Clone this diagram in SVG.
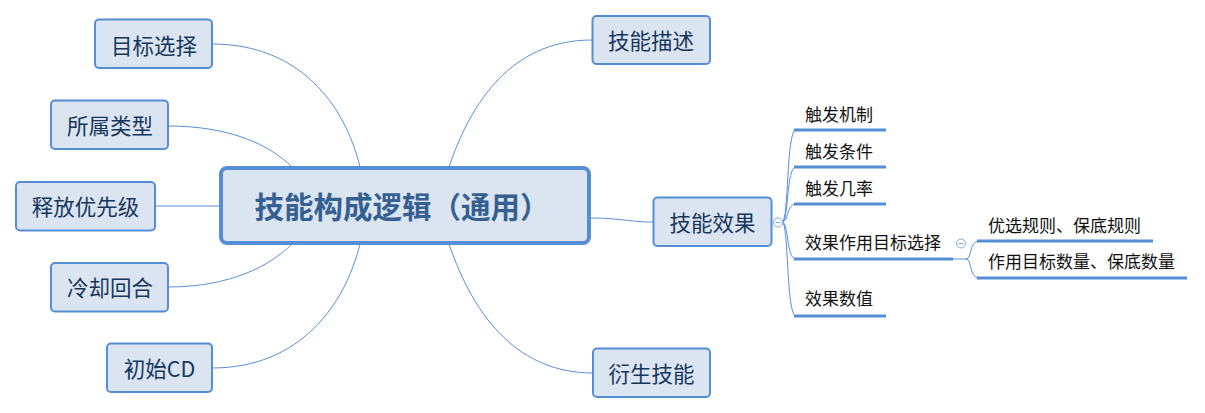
<svg xmlns="http://www.w3.org/2000/svg" width="1205" height="413" viewBox="0 0 1205 413">
<style>
.node rect{fill:#DBE5F1;stroke:#558ED5;stroke-width:2}
.node text{font-family:"Microsoft YaHei","Noto Sans CJK SC",sans-serif;font-size:21.5px;fill:#17365D;text-anchor:middle}
#center rect{stroke-width:4}
#center text{font-size:29.5px;font-weight:bold;fill:#366092}
.sub text{font-family:"Microsoft YaHei","Noto Sans CJK SC",sans-serif;font-size:17px;fill:#111}
.sub line{stroke:#558ED5;stroke-width:3}
.conn path{fill:none;stroke:#5A8FD8;stroke-width:1}
.toggle circle{fill:#fff;stroke:#7FA7DD;stroke-width:1}
.toggle line{stroke:#7FA7DD;stroke-width:1}
</style>
<rect width="1205" height="413" fill="#fff"/>
<g id="connectors" class="conn">
<path d="M212,44 C300,44 345,105 360,167"/>
<path d="M168,126 C230,126 270,145 292,167"/>
<path d="M155,206 L220,206"/>
<path d="M168,287 C230,287 270,266 292,244"/>
<path d="M212,368 C300,368 345,305 360,244"/>
<path d="M592,40 C520,40 475,90 449,167"/>
<path d="M593,373 C520,373 475,320 449,244"/>
<path d="M590,218 C620,218 630,222 653,222"/>
<path d="M782,222 C789,222 786,130 796,130"/>
<path d="M782,222 C789,222 786,167 796,167"/>
<path d="M782,222 C789,222 786,204 796,204"/>
<path d="M782,222 C789,222 786,259 796,259"/>
<path d="M782,222 C789,222 786,316 796,316"/>
<path d="M953,259 L967,259"/>
<path d="M966,259 C972,259 969,241 979,241"/>
<path d="M966,259 C972,259 969,278 979,278"/>
</g>
<g id="center" class="node"><rect x="221" y="168" width="368" height="75" rx="6"/><text x="402" y="217.5">技能构成逻辑（通用）</text></g>
<g id="n-mubiao" class="node"><rect x="95" y="19.5" width="117" height="48.5" rx="4"/><text x="154" y="54">目标选择</text></g>
<g id="n-suoshu" class="node"><rect x="51" y="100.5" width="117" height="48.5" rx="4"/><text x="110" y="134">所属类型</text></g>
<g id="n-shifang" class="node"><rect x="16" y="182" width="139" height="48.5" rx="4"/><text x="85.5" y="214.5">释放优先级</text></g>
<g id="n-lengque" class="node"><rect x="51" y="263" width="117" height="48.5" rx="4"/><text x="110" y="295.5">冷却回合</text></g>
<g id="n-chushi" class="node"><rect x="107" y="343.5" width="105" height="48.5" rx="4"/><text x="159.5" y="377">初始CD</text></g>
<g id="n-miaoshu" class="node"><rect x="592.5" y="16" width="117.5" height="48" rx="4"/><text x="651" y="49">技能描述</text></g>
<g id="n-yansheng" class="node"><rect x="593" y="348.5" width="117" height="48.5" rx="4"/><text x="651.5" y="381.5">衍生技能</text></g>
<g id="n-xiaoguo" class="node"><rect x="653.5" y="197.5" width="118" height="48.5" rx="4"/><text x="712.5" y="231">技能效果</text></g>
<g id="t1" class="toggle"><circle cx="778" cy="222.5" r="4.5"/><line x1="775.5" y1="222.5" x2="780.5" y2="222.5"/></g>
<g id="s-jizhi" class="sub"><text x="805" y="120.5">触发机制</text><line x1="794" y1="130" x2="886" y2="130"/></g>
<g id="s-tiaojian" class="sub"><text x="805" y="157.5">触发条件</text><line x1="794" y1="167" x2="886" y2="167"/></g>
<g id="s-jilv" class="sub"><text x="805" y="194.5">触发几率</text><line x1="794" y1="204" x2="886" y2="204"/></g>
<g id="s-mubiao" class="sub"><text x="805" y="248.5">效果作用目标选择</text><line x1="794" y1="259" x2="953" y2="259"/></g>
<g id="s-shuzhi" class="sub"><text x="805" y="304.5">效果数值</text><line x1="794" y1="316" x2="886" y2="316"/></g>
<g id="t2" class="toggle"><circle cx="961" cy="243.5" r="4.5"/><line x1="958.5" y1="243.5" x2="963.5" y2="243.5"/></g>
<g id="s-guize" class="sub"><text x="988" y="231.5">优选规则、保底规则</text><line x1="977" y1="241" x2="1153" y2="241"/></g>
<g id="s-shuliang" class="sub"><text x="988" y="268">作用目标数量、保底数量</text><line x1="977" y1="278" x2="1187" y2="278"/></g>
</svg>
